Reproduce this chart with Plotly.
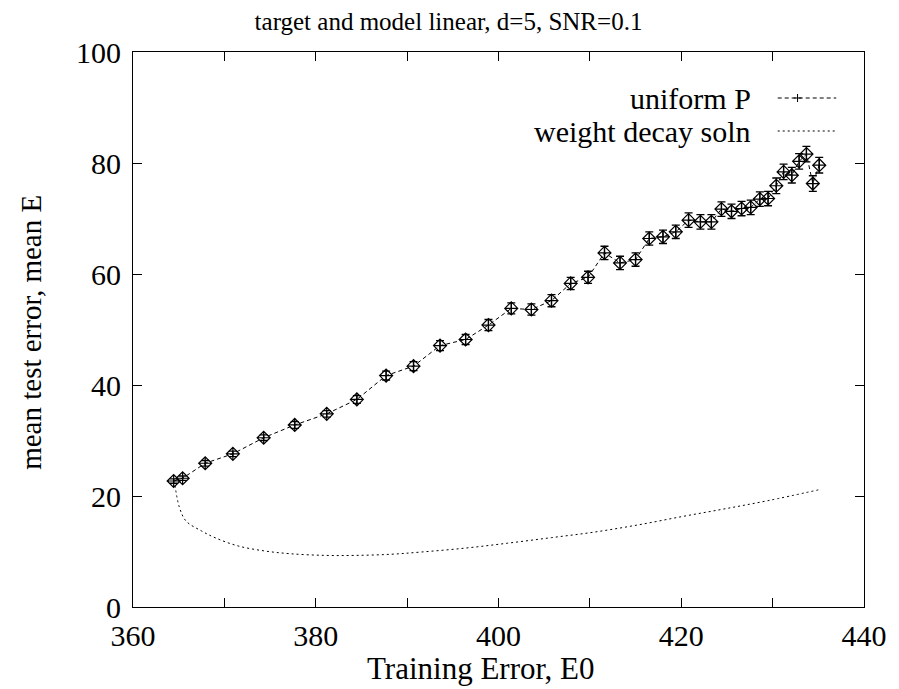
import plotly.graph_objects as go

# uniform P data (training error E0, mean test error E, error bar)
e0 = [364.45, 365.43, 367.9, 370.93, 374.3, 377.7, 381.2, 384.5,
      387.7, 390.7, 393.6, 396.4, 398.9, 401.4, 403.6, 405.8,
      407.9, 409.8, 411.6, 413.3, 415.0, 416.5, 418.0, 419.4,
      420.8, 422.1, 423.3, 424.4, 425.5, 426.6, 427.6, 428.6,
      429.5, 430.4, 431.2, 432.1, 432.9, 433.7, 434.4, 435.1]
mean_e = [22.7, 23.2, 25.9, 27.6, 30.5, 32.8, 34.8, 37.4,
          41.7, 43.4, 47.1, 48.2, 50.8, 53.8, 53.6, 55.2,
          58.3, 59.4, 63.8, 62.0, 62.6, 66.4, 66.7, 67.6,
          69.7, 69.4, 69.4, 71.7, 71.3, 71.8, 72.0, 73.5,
          73.6, 75.9, 78.4, 77.8, 80.3, 81.6, 76.3, 79.6]
err = [0.4, 0.4, 0.5, 0.5, 0.5, 0.6, 0.6, 0.7,
       0.8, 0.8, 0.9, 0.9, 1.0, 1.0, 1.0, 1.1,
       1.1, 1.1, 1.2, 1.2, 1.2, 1.2, 1.2, 1.2,
       1.3, 1.3, 1.3, 1.3, 1.3, 1.3, 1.3, 1.3,
       1.3, 1.4, 1.4, 1.4, 1.4, 1.4, 1.4, 1.4]

# weight decay solution curve
wd_e0 = [364.6, 365.07, 365.8, 367.5, 369.1, 371.5, 374.4, 377.2, 381.0,
         384.4, 388.2, 391.5, 396.3, 401.0, 405.8, 410.5, 415.3, 420.1,
         424.8, 429.6, 435.0]
wd_e = [21.9, 18.0, 15.5, 13.7, 12.4, 11.0, 10.1, 9.6, 9.3,
        9.3, 9.5, 9.9, 10.6, 11.5, 12.5, 13.5, 14.8, 16.3,
        17.7, 19.2, 21.1]

x_ticks = [360, 380, 400, 420, 440]
y_ticks = [0, 20, 40, 60, 80, 100]

FONT = "Liberation Serif, Times New Roman, serif"

# page offset (body margin) and figure size
OFF = 8
W, H = 891, 681
PL, PR, PT, PB = 133, 870, 52, 607   # plot area in page pixels


def cx(x):  # page x -> container fraction
    return (x - OFF) / W


def cy(y):  # page y -> container fraction
    return 1 - (y - OFF) / H


def ax(x):  # page x -> paper (plot area) fraction
    return (x - PL) / (PR - PL)


def ay(y):  # page y -> paper (plot area) fraction
    return (PB - y) / (PB - PT)


fig = go.Figure()
fig.add_trace(go.Scatter(
    x=e0, y=mean_e, mode="lines+markers",
    line=dict(color="black", width=1, dash="4px,3px"),
    marker=dict(symbol="diamond-cross-open", size=10, color="black",
                line=dict(width=1.2, color="black")),
    error_y=dict(type="data", array=err, visible=True, color="black",
                 thickness=1.3, width=4),
    showlegend=False))
fig.add_trace(go.Scatter(
    x=wd_e0, y=wd_e, mode="lines", line_shape="spline",
    line=dict(color="black", width=1, dash="2px,3px"),
    showlegend=False))

annotations = []
shapes = []
leg_x_text = 758
leg_x0, leg_x1 = 783, 842
for label, yy, dash in [("uniform P", 98, "4px,3px"), ("weight decay soln", 131, "2px,3px")]:
    annotations.append(dict(x=ax(leg_x_text), y=ay(yy), xref="paper", yref="paper",
                            text=label, showarrow=False, xanchor="right", yanchor="middle",
                            font=dict(family=FONT, size=30, color="black")))
    shapes.append(dict(type="line", xref="paper", yref="paper",
                       x0=ax(leg_x0), x1=ax(leg_x1), y0=ay(yy), y1=ay(yy),
                       line=dict(color="black", width=1, dash=dash)))
# plus sign on the uniform P sample
shapes.append(dict(type="line", xref="paper", yref="paper",
                   x0=ax(803), x1=ax(803), y0=ay(94), y1=ay(102),
                   line=dict(color="black", width=1)))
shapes.append(dict(type="line", xref="paper", yref="paper",
                   x0=ax(799), x1=ax(807), y0=ay(98), y1=ay(98),
                   line=dict(color="black", width=1)))

# axis titles
annotations.append(dict(x=ax(484), y=ay(668), xref="paper", yref="paper",
                        text="Training Error, E0", showarrow=False,
                        xanchor="center", yanchor="middle",
                        font=dict(family=FONT, size=31, color="black")))
annotations.append(dict(x=ax(30), y=ay(332), xref="paper", yref="paper",
                        text="mean test error, mean E", showarrow=False, textangle=-90,
                        xanchor="center", yanchor="middle",
                        font=dict(family=FONT, size=29, color="black")))

fig.update_layout(
    width=W, height=H,
    margin=dict(l=PL - OFF, r=W - (PR - OFF), t=PT - OFF, b=H - (PB - OFF)),
    paper_bgcolor="white", plot_bgcolor="white",
    font=dict(family=FONT, color="black", size=30),
    title=dict(text="target and model linear, d=5, SNR=0.1",
               x=cx(448.5), xref="container", xanchor="center",
               y=cy(21), yref="container", yanchor="middle",
               font=dict(family=FONT, size=25, color="black")),
    annotations=annotations,
    shapes=shapes,
    showlegend=False,
)
fig.update_xaxes(range=[360, 440], tickvals=x_ticks, ticktext=[str(v) for v in x_ticks],
                 showgrid=False, zeroline=False, showline=True, linecolor="black", linewidth=1,
                 mirror="ticks", ticks="inside", ticklen=9, tickcolor="black",
                 minor=dict(dtick=10, tick0=360, ticks="inside", ticklen=9, tickcolor="black", showgrid=False),
                 tickfont=dict(family=FONT, size=30), ticklabelstandoff=2)
fig.update_yaxes(range=[0, 100], tickvals=y_ticks, ticktext=[str(v) for v in y_ticks],
                 showgrid=False, zeroline=False, showline=True, linecolor="black", linewidth=1,
                 mirror="ticks", ticks="inside", ticklen=9, tickcolor="black",
                 tickfont=dict(family=FONT, size=30), ticklabelstandoff=5)

fig.write_html("out.html")
